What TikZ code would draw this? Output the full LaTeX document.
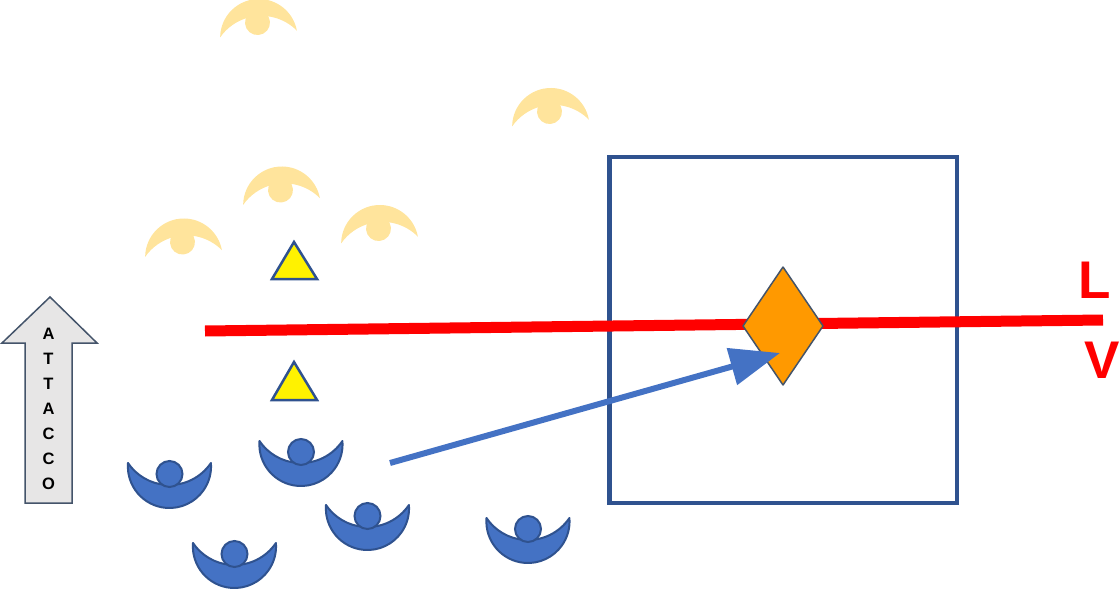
\documentclass[tikz,border=0pt]{standalone}
\usepackage{fontspec}
\setmainfont{Liberation Sans}
\usetikzlibrary{arrows.meta}
\definecolor{pblue}{HTML}{4472C4}
\definecolor{pbluedark}{HTML}{2F528F}
\definecolor{pgold}{HTML}{FFE49C}
\definecolor{porange}{HTML}{FF9900}
\definecolor{pslate}{HTML}{44546A}
\definecolor{pgray}{HTML}{E7E6E6}
\definecolor{pred}{HTML}{FF0000}
\tikzset{
  blueplayer/.pic={
    \path[fill=pblue,draw=pbluedark,line width=2pt,line join=round]
      (-41.5,0) arc[start angle=184.7,end angle=-4.7,radius=41.6]
      arc[start angle=34.1,end angle=145.9,radius=50.1] -- cycle;
    \path[fill=pblue,draw=pbluedark,line width=2pt] (0,11) circle[radius=13];
  },
  goldplayer/.pic={
    \path[fill=pgold]
      (-38.5,0) arc[start angle=185.5,end angle=354.5,radius=38.7]
      arc[start angle=-39.9,end angle=-140.1,radius=50.2] -- cycle;
    \path[fill=pgold] (0,-11.5) circle[radius=12.5];
  },
  fieldbox/.style={draw=pbluedark,line width=4.5pt},
  tri/.style={fill=yellow,draw=pbluedark,line width=2.5pt,line join=miter},
  linea/.style={draw=pred,line width=11pt},
  passaggio/.style={draw=pblue,line width=6pt,-{Triangle[length=50pt,width=37pt]}},
  palla/.style={fill=porange,draw=pslate,line width=1.5pt,line join=round},
  attacco/.style={fill=pgray,draw=pslate,line width=1.5pt,line join=miter},
  letters/.style={font=\fontsize{16.5}{25}\selectfont\bfseries,align=center,inner sep=0pt},
  bigletter/.style={font=\fontsize{53}{60}\selectfont\bfseries,text=pred,inner sep=0pt,anchor=base west}
}
\begin{document}
\begin{tikzpicture}[x=1pt,y=-1pt]
\useasboundingbox (0,0) rectangle (1120,591);
% opponents
\pic[rotate=5] at (258.5,34) {goldplayer};
\pic[rotate=5] at (550.5,123) {goldplayer};
\pic[rotate=5] at (281.5,201.5) {goldplayer};
\pic[rotate=5] at (183.5,253.5) {goldplayer};
\pic[rotate=5] at (379.5,240) {goldplayer};
% triangles
\draw[tri] (294,242) -- (317,279) -- (272,279) -- cycle;
\draw[tri] (294,362) -- (317,400) -- (272,400) -- cycle;
% box
\draw[fieldbox] (609.5,157) rectangle (957,503);
% red line
\coordinate (la) at (205,331);
\coordinate (lb) at (1103,320);
\draw[linea] (la) -- (lb);
% ball
\draw[palla] (783,267) -- (823,326) -- (783,385) -- (743,326) -- cycle;
% players
\pic at (169.5,463) {blueplayer};
\pic at (301,441) {blueplayer};
\pic at (234.5,543) {blueplayer};
\pic at (367.5,505) {blueplayer};
\pic at (528,518) {blueplayer};
% pass arrow
\coordinate (pa) at (390,463);
\coordinate (pb) at (780,353);
\draw[passaggio] (pa) -- (pb);
% attacco arrow
\draw[attacco] (50,297) -- (97,343) -- (72,343) -- (72,503) -- (25,503) -- (25,343) -- (2,343) -- cycle;
\node[letters] (att) at (48.5,409) {A\\T\\T\\A\\C\\C\\O};
% L V
\node[bigletter] (L) at (1078,298) {L};
\node[bigletter] (V) at (1084,378) {V};
\end{tikzpicture}
\end{document}
